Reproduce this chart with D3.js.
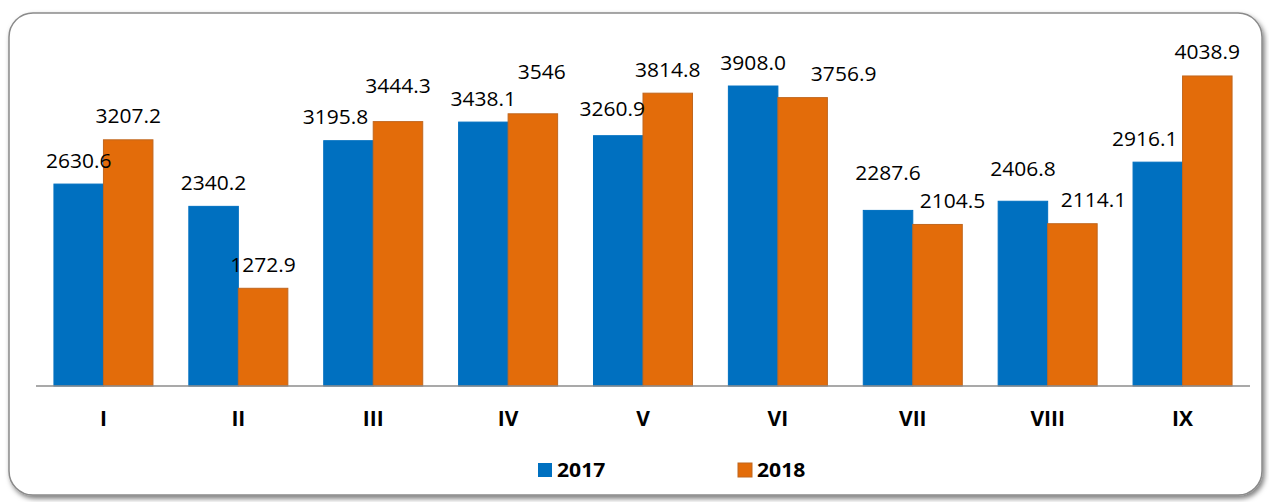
<!DOCTYPE html>
<html>
<head>
<meta charset="utf-8">
<script src="https://cdn.jsdelivr.net/npm/d3@7"></script>
<style>
  html, body { margin: 0; padding: 0; background: #fff; }
  svg { display: block; }
  text { font-family: "Open Sans", sans-serif; fill: #000; }
</style>
</head>
<body>
<div id="chart"></div>
<script>
const months = ["I", "II", "III", "IV", "V", "VI", "VII", "VIII", "IX"];
const seriesNames = ["2017", "2018"];
const values2017 = [2630.6, 2340.2, 3195.8, 3438.1, 3260.9, 3908.0, 2287.6, 2406.8, 2916.1];
const values2018 = [3207.2, 1272.9, 3444.3, 3546, 3814.8, 3756.9, 2104.5, 2114.1, 4038.9];
const labels2017 = ["2630.6", "2340.2", "3195.8", "3438.1", "3260.9", "3908.0", "2287.6", "2406.8", "2916.1"];
const labels2018 = ["3207.2", "1272.9", "3444.3", "3546", "3814.8", "3756.9", "2104.5", "2114.1", "4038.9"];

// hand-placed label nudges, as in the original chart [dx, dy]
const nudge2017 = [[0, 0], [0, 0], [-13, 0], [0, 0], [-6, -3], [0, 0], [0, -14], [0, -9], [-13, 0]];
const nudge2018 = [[0, 0], [0, 0], [0, -12], [9, -18], [0, 0], [41, 0], [15, 0], [21, 0], [0, 0]];

const width = 1269, height = 502;
const plot = { left: 36, right: 1250, base: 386 };
const colors = { "2017": "#0070C0", "2018": "#E36C0A" };
const strokes = { "2017": "#0070C0", "2018": "#C0661E" };

const rows = months.map((m, i) => ({
  month: m,
  bars: [
    { key: "2017", value: values2017[i], label: labels2017[i], nudge: nudge2017[i] },
    { key: "2018", value: values2018[i], label: labels2018[i], nudge: nudge2018[i] }
  ]
}));

const svg = d3.select("#chart").append("svg")
  .attr("width", width)
  .attr("height", height);

const defs = svg.append("defs");
const shadow = defs.append("filter").attr("id", "shadow")
  .attr("x", "-5%").attr("y", "-5%").attr("width", "110%").attr("height", "115%");
shadow.append("feDropShadow")
  .attr("dx", 2).attr("dy", 3).attr("stdDeviation", 2.5)
  .attr("flood-color", "#000").attr("flood-opacity", 0.5);

// frame
svg.append("rect")
  .attr("x", 9).attr("y", 13)
  .attr("width", 1253).attr("height", 482)
  .attr("rx", 24).attr("ry", 24)
  .attr("fill", "#fff")
  .attr("stroke", "#8a8a8a")
  .attr("stroke-width", 1.5)
  .attr("filter", "url(#shadow)");

const x0 = d3.scaleBand()
  .domain(months)
  .range([plot.left, plot.right])
  .paddingInner(0.266)
  .paddingOuter(0.133);

const x1 = d3.scaleBand()
  .domain(seriesNames)
  .range([0, x0.bandwidth()]);

const y = d3.scaleLinear()
  .domain([0, 5000])
  .range([plot.base, plot.base - 0.07676 * 5000]);

const groups = svg.append("g").selectAll("g")
  .data(rows)
  .join("g")
  .attr("transform", d => "translate(" + x0(d.month) + ",0)");

groups.selectAll("rect")
  .data(d => d.bars)
  .join("rect")
  .attr("x", d => x1(d.key))
  .attr("y", d => y(d.value))
  .attr("width", x1.bandwidth())
  .attr("height", d => y(0) - y(d.value))
  .attr("fill", d => colors[d.key])
  .attr("stroke", d => strokes[d.key])
  .attr("stroke-width", 1);

groups.selectAll("text")
  .data(d => d.bars)
  .join("text")
  .attr("transform", d => "translate(" + (x1(d.key) + x1.bandwidth() / 2 + d.nudge[0]) + "," + (y(d.value) - 16.5 + d.nudge[1]) + ") scale(1.05,1)")
  .attr("text-anchor", "middle")
  .style("font-size", "20px")
  .text(d => d.label);

// x axis
const xAxis = d3.axisBottom(x0).tickSize(0).tickPadding(0);
const axisG = svg.append("g")
  .attr("transform", "translate(0," + plot.base + ")")
  .call(xAxis);
axisG.select(".domain").remove();
axisG.selectAll("text")
  .attr("dy", null)
  .attr("y", 40)
  .style("font-family", "'Open Sans', sans-serif")
  .style("font-size", "21px")
  .style("font-weight", "bold")
  .attr("fill", "#000");

svg.append("line")
  .attr("x1", plot.left).attr("x2", plot.right)
  .attr("y1", plot.base).attr("y2", plot.base)
  .attr("stroke", "#8c8c8c")
  .attr("stroke-width", 1.5);

// legend
const legendX = d3.scaleOrdinal().domain(seriesNames).range([538, 738]);
const legend = svg.append("g").selectAll("g")
  .data(seriesNames)
  .join("g")
  .attr("transform", d => "translate(" + legendX(d) + ",463)");
legend.append("rect")
  .attr("width", 14).attr("height", 14)
  .attr("fill", d => colors[d])
  .attr("stroke", d => strokes[d])
  .attr("stroke-width", d => d === "2018" ? 1 : 0);
legend.append("text")
  .attr("transform", "translate(19,14.3) scale(1.08,1)")
  .style("font-size", "19.6px")
  .style("font-weight", "bold")
  .text(d => d);
</script>
</body>
</html>
